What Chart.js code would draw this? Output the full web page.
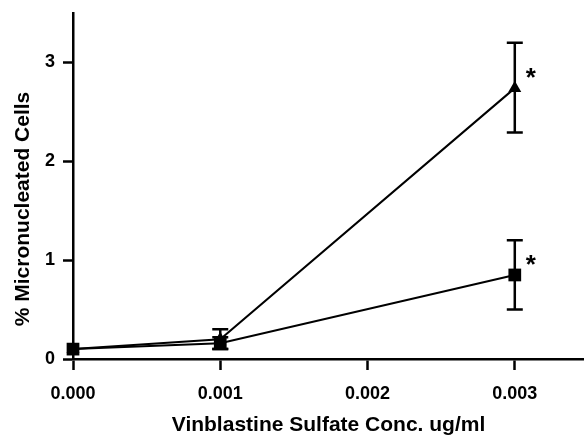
<!DOCTYPE html>
<html>
<head>
<meta charset="utf-8">
<script src="https://cdn.jsdelivr.net/npm/chart.js@4/dist/chart.umd.min.js"></script>
<style>
  html, body { margin: 0; padding: 0; background: #fff; }
  #wrap { width: 584px; height: 438px; }
</style>
</head>
<body>
<div id="wrap"><canvas id="chart" width="584" height="438"></canvas></div>
<script>
// concentrations (ug/ml)
const concs = [0.000, 0.001, 0.003];
const xTicks = [0.000, 0.001, 0.002, 0.003];
const yTicks = [0, 1, 2, 3];

// triangle series
const triMean = [0.10, 0.20, 2.74];
const triLow  = [0.10, 0.10, 2.29];
const triHigh = [0.10, 0.30, 3.20];

// square series
const sqMean = [0.10, 0.16, 0.85];
const sqLow  = [0.10, 0.10, 0.50];
const sqHigh = [0.10, 0.22, 1.20];

// significance marks
const starFlags = [false, false, true];

const yTitle = '% Micronucleated Cells';
const xTitle = 'Vinblastine Sulfate Conc. ug/ml';

const FONT = '"Liberation Sans", Arial, sans-serif';

function toPoints(xs, ys) {
  return xs.map((x, i) => ({ x: x, y: ys[i] }));
}

// error bars + asterisks drawn through the chart's scales
const errorBars = {
  id: 'errorBars',
  afterDatasetsDraw(chart) {
    const ctx = chart.ctx;
    const xs = chart.scales.x;
    const ys = chart.scales.y;
    chart.data.datasets.forEach(ds => {
      ctx.save();
      ctx.strokeStyle = '#000';
      ctx.lineWidth = 2.5;
      concs.forEach((c, i) => {
        const px = xs.getPixelForValue(c);
        const top = ys.getPixelForValue(ds.errHigh[i]);
        const bot = ys.getPixelForValue(ds.errLow[i]);
        if (Math.abs(bot - top) < 1) return;
        ctx.beginPath();
        ctx.moveTo(px, top); ctx.lineTo(px, bot);
        ctx.moveTo(px - 8, top); ctx.lineTo(px + 8, top);
        ctx.moveTo(px - 8, bot); ctx.lineTo(px + 8, bot);
        ctx.stroke();
      });
      ctx.fillStyle = '#000';
      ctx.font = 'bold 26px ' + FONT;
      ctx.textAlign = 'left';
      ctx.textBaseline = 'middle';
      concs.forEach((c, i) => {
        if (!starFlags[i]) return;
        const px = xs.getPixelForValue(c);
        const py = ys.getPixelForValue(ds.data[i].y);
        ctx.fillText('*', px + 11, py - 9);
      });
      ctx.restore();
    });
  },
  // y title sits a little below the axis middle in the original
  afterDraw(chart) {
    const ctx = chart.ctx;
    ctx.save();
    ctx.fillStyle = '#000';
    ctx.font = 'bold 21px ' + FONT;
    ctx.textAlign = 'center';
    ctx.textBaseline = 'middle';
    ctx.translate(23, 209);
    ctx.rotate(-Math.PI / 2);
    ctx.fillText(yTitle, 0, 0);
    ctx.restore();
  }
};

new Chart(document.getElementById('chart'), {
  type: 'scatter',
  data: {
    datasets: [
      {
        label: 'square',
        data: toPoints(concs, sqMean),
        errLow: sqLow,
        errHigh: sqHigh,
        showLine: true,
        borderColor: '#000',
        borderWidth: 2,
        backgroundColor: '#000',
        pointStyle: 'rect',
        pointRadius: 9,
        pointBorderWidth: 0,
        clip: false
      },
      {
        label: 'triangle',
        data: toPoints(concs, triMean),
        errLow: triLow,
        errHigh: triHigh,
        showLine: true,
        borderColor: '#000',
        borderWidth: 2,
        backgroundColor: '#000',
        pointStyle: 'triangle',
        pointRadius: 7.5,
        pointBorderWidth: 0,
        clip: false
      }
    ]
  },
  options: {
    responsive: false,
    animation: false,
    layout: { autoPadding: false, padding: { top: 13, right: 0, left: 0, bottom: 0 } },
    plugins: {
      legend: { display: false },
      tooltip: { enabled: false }
    },
    scales: {
      x: {
        type: 'linear',
        min: 0,
        max: 0.00347,
        afterBuildTicks: s => { s.ticks = xTicks.map(v => ({ value: v })); },
        afterFit: s => { s.height = 79; s.paddingLeft = 0; s.paddingRight = 0; },
        border: { color: '#000', width: 2.5 },
        grid: { drawOnChartArea: false, drawTicks: true, tickLength: 11, tickWidth: 2.5, tickColor: '#000' },
        ticks: {
          color: '#000',
          padding: 13,
          font: { family: FONT, size: 18, weight: 'bold' },
          callback: v => v.toFixed(3)
        },
        title: {
          display: true,
          text: xTitle,
          color: '#000',
          font: { family: FONT, size: 21, weight: 'bold' },
          padding: { top: 0, bottom: 0 }
        }
      },
      y: {
        type: 'linear',
        min: 0,
        max: 3.5,
        afterBuildTicks: s => { s.ticks = yTicks.map(v => ({ value: v })); },
        afterFit: s => { s.width = 73; s.paddingTop = 0; s.paddingBottom = 0; },
        border: { color: '#000', width: 2.5 },
        grid: { drawOnChartArea: false, drawTicks: true, tickLength: 10, tickWidth: 2.5, tickColor: '#000' },
        ticks: {
          color: '#000',
          padding: 8,
          font: { family: FONT, size: 18, weight: 'bold' }
        }
      }
    }
  },
  plugins: [errorBars]
});
</script>
</body>
</html>
